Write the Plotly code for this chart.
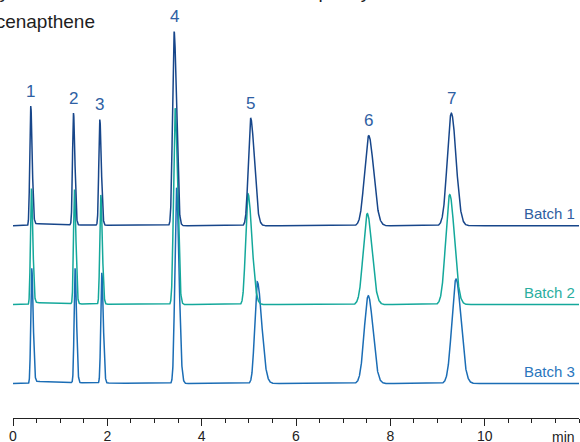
import numpy as np
import plotly.graph_objects as go

# ---- data ----
batches = ["Batch 1", "Batch 2", "Batch 3"]
offsets = [2.0, 1.0, 0.0]
peak_labels = ["1", "2", "3", "4", "5", "6", "7"]

rt_b1 = [0.376, 1.282, 1.840, 3.416, 5.037, 7.541, 9.293]
rt_b2 = [0.390, 1.303, 1.861, 3.437, 4.980, 7.511, 9.259]
rt_b3 = [0.397, 1.316, 1.882, 3.467, 5.177, 7.532, 9.393]

h_b1 = [1.517, 1.416, 1.340, 2.459, 1.365, 1.141, 1.425]
h_b2 = [1.470, 1.449, 1.385, 2.488, 1.407, 1.153, 1.394]
h_b3 = [1.461, 1.449, 1.398, 2.480, 1.289, 1.112, 1.323]

# left / right peak widths (sigma, min)
sl_b1 = [0.020, 0.020, 0.021, 0.033, 0.048, 0.088, 0.085]
sr_b1 = [0.030, 0.030, 0.032, 0.050, 0.080, 0.105, 0.100]
sl_b2 = [0.020, 0.020, 0.021, 0.033, 0.048, 0.085, 0.085]
sr_b2 = [0.030, 0.030, 0.032, 0.050, 0.085, 0.100, 0.100]
sl_b3 = [0.020, 0.020, 0.021, 0.035, 0.052, 0.085, 0.088]
sr_b3 = [0.030, 0.030, 0.032, 0.052, 0.095, 0.100, 0.105]

# small baseline shelf after the solvent front (height, decay in min)
shelf_h = [0.030, 0.030, 0.030]
shelf_tau = [0.9, 0.9, 0.9]

colors = ["#17468a", "#14a89b", "#1b6db5"]
label_colors = ["#2f5e9f", "#2aaea0", "#2a76bd"]
number_color = "#2e60a3"

time_ticks = [0, 2, 4, 6, 8, 10]

rts = [rt_b1, rt_b2, rt_b3]
hs = [h_b1, h_b2, h_b3]
sls = [sl_b1, sl_b2, sl_b3]
srs = [sr_b1, sr_b2, sr_b3]

t = np.linspace(0, 12, 6001)


def signal(rt, h, sl, sr, off, sh, tau):
    y = np.full_like(t, off)
    for r, a, s1, s2 in zip(rt, h, sl, sr):
        s = np.where(t < r, s1, s2)
        y += a * np.exp(-0.5 * ((t - r) / s) ** 2)
    r0 = rt[0]
    ramp = np.clip((t - r0) / 0.05, 0, 1)
    y += sh * ramp * np.exp(-np.clip(t - r0, 0, None) / tau)
    return y


fig = go.Figure()
for i in [2, 1, 0]:
    y = signal(rts[i], hs[i], sls[i], srs[i], offsets[i], shelf_h[i], shelf_tau[i])
    fig.add_trace(go.Scatter(x=t, y=y, mode="lines",
                             line=dict(color=colors[i], width=1.5),
                             hoverinfo="skip", showlegend=False))

PLOT_H = 418.0
ymax = 383.5 / 78.9
ymin = ymax - PLOT_H / 78.9

annotations = []
# peak numbers above Batch 1 peaks
for lab, r, a in zip(peak_labels, rt_b1, h_b1):
    annotations.append(dict(x=r, y=offsets[0] + a, xref="x", yref="y",
                            text=lab, showarrow=False, yanchor="middle",
                            yshift=15, font=dict(size=17, color=number_color)))
# batch labels
for i, b in enumerate(batches):
    annotations.append(dict(x=1.0, y=offsets[i], xref="paper", yref="y",
                            text=b, showarrow=False, xanchor="right",
                            yanchor="middle", xshift=-2, yshift=12,
                            font=dict(size=15, color=label_colors[i])))
# unit label
annotations.append(dict(x=1.0, y=0, xref="paper", yref="paper", text="min",
                        showarrow=False, xanchor="right", yanchor="middle",
                        xshift=-2, yshift=-19,
                        font=dict(size=14, color="#222222")))

# partially cropped compound list at top
plot_w = 579 - 13.3


def px2paper(px):
    return (px - 13.3) / plot_w


annotations.append(dict(x=px2paper(88), y=1 + 8 / PLOT_H, xref="paper", yref="paper",
                        text="Butylbenzene", showarrow=False, xanchor="right",
                        yanchor="middle", font=dict(size=19, color="#1e1e1e")))
annotations.append(dict(x=px2paper(97), y=1 - 22 / PLOT_H, xref="paper", yref="paper",
                        text="Acenapthene", showarrow=False, xanchor="right",
                        yanchor="middle", font=dict(size=19, color="#1e1e1e")))
annotations.append(dict(x=px2paper(408), y=1 + 8 / PLOT_H, xref="paper", yref="paper",
                        text="Triphenylene", showarrow=False, xanchor="right",
                        yanchor="middle", font=dict(size=19, color="#1e1e1e")))

fig.update_layout(
    width=580, height=442,
    margin=dict(l=13.3, r=1, t=0, b=442 - PLOT_H, autoexpand=False),
    paper_bgcolor="white", plot_bgcolor="white",
    font=dict(family="Liberation Sans, Arial, sans-serif", color="#222222"),
    annotations=annotations,
    xaxis=dict(range=[0, 12], showgrid=False, zeroline=False,
               showline=True, linecolor="#222222", linewidth=1,
               ticks="outside", ticklen=7, tickwidth=1, tickcolor="#222222",
               tickvals=time_ticks, ticktext=[str(v) for v in time_ticks],
               tickfont=dict(size=14, color="#222222"),
               ticklabelstandoff=-2,
               minor=dict(dtick=0.5, ticks="outside", ticklen=4,
                          tickcolor="#222222", tickwidth=1),
               automargin=False),
    yaxis=dict(range=[ymin, ymax], visible=False, automargin=False),
)

fig.write_html("out.html",
               config={"displayModeBar": False, "staticPlot": True},
               post_script="document.body.style.margin='0px';"
                           "document.body.style.overflow='hidden';")
